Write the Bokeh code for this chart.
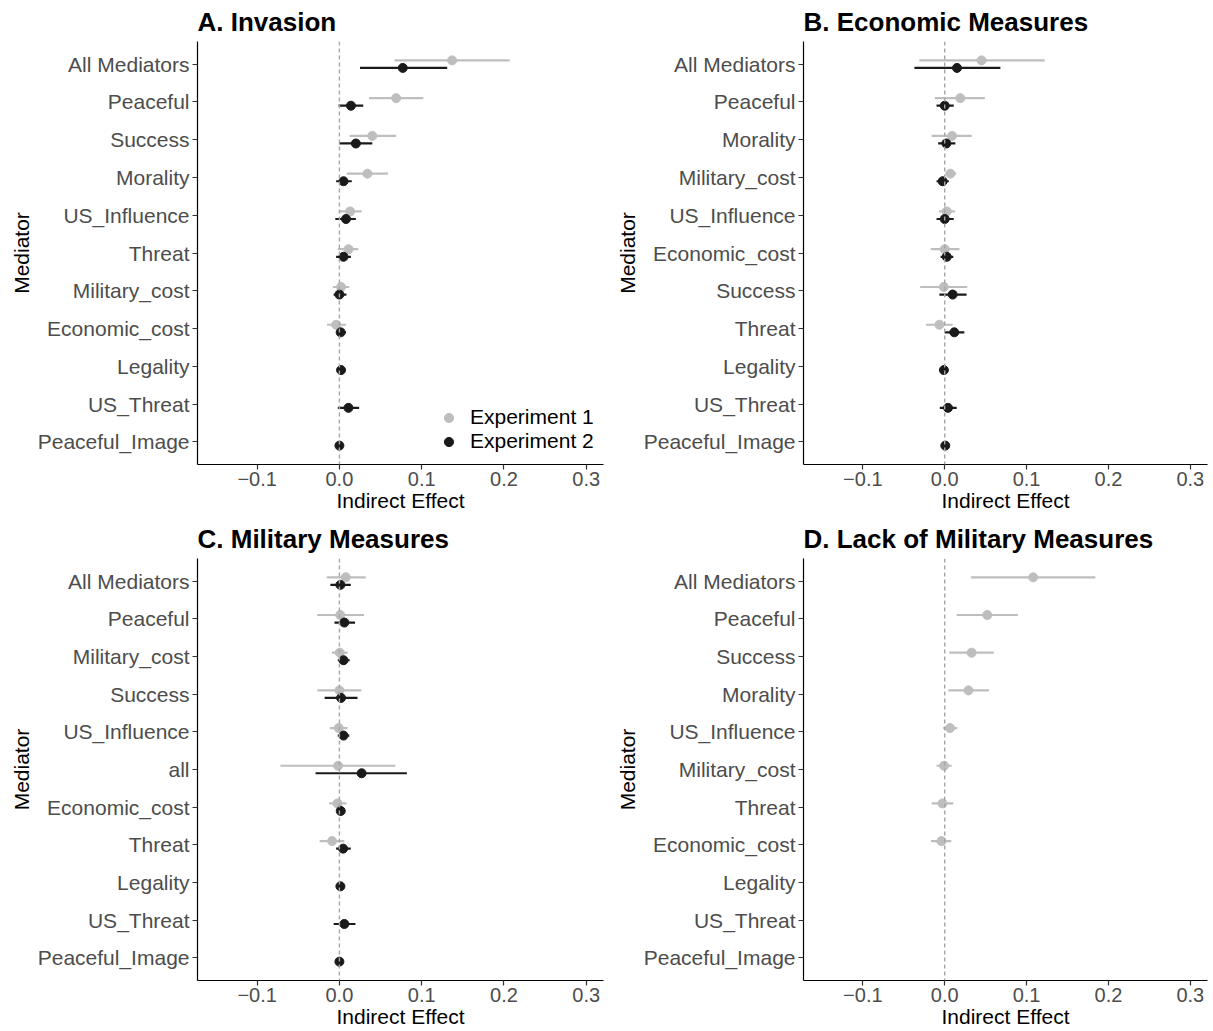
import math
from bokeh.plotting import figure
from bokeh.layouts import gridplot
from bokeh.models import (ColumnDataSource, Range1d, FixedTicker, Span, Legend, LegendItem)
from bokeh.embed import file_html
from bokeh.resources import INLINE

NAN = float("nan")
FONT = "Liberation Sans"

# ---- data: indirect effect estimates with 95% intervals ----
titles = ["A. Invasion", "B. Economic Measures", "C. Military Measures", "D. Lack of Military Measures"]

# A. Invasion
inv_mediators = ["All Mediators", "Peaceful", "Success", "Morality", "US_Influence", "Threat",
                 "Military_cost", "Economic_cost", "Legality", "US_Threat", "Peaceful_Image"]
inv_exp1_est = [0.137, 0.069, 0.040, 0.034, 0.013, 0.011, 0.002, -0.004, NAN, NAN, NAN]
inv_exp1_lo = [0.067, 0.036, 0.0125, 0.009, 0.000, -0.002, -0.008, -0.015, NAN, NAN, NAN]
inv_exp1_hi = [0.207, 0.102, 0.069, 0.059, 0.027, 0.023, 0.012, 0.008, NAN, NAN, NAN]
inv_exp2_est = [0.077, 0.014, 0.020, 0.005, 0.008, 0.005, 0.000, 0.0015, 0.002, 0.011, 0.000]
inv_exp2_lo = [0.025, -0.001, 0.000, -0.004, -0.005, -0.004, -0.007, -0.002, 0.000, -0.002, -0.001]
inv_exp2_hi = [0.131, 0.029, 0.040, 0.015, 0.020, 0.014, 0.0085, 0.008, 0.004, 0.024, 0.001]

# B. Economic Measures
eco_mediators = ["All Mediators", "Peaceful", "Morality", "Military_cost", "US_Influence", "Economic_cost",
                 "Success", "Threat", "Legality", "US_Threat", "Peaceful_Image"]
eco_exp1_est = [0.045, 0.019, 0.009, 0.007, 0.0025, 0.000, -0.001, -0.0065, NAN, NAN, NAN]
eco_exp1_lo = [-0.031, -0.012, -0.016, 0.001, -0.007, -0.017, -0.030, -0.023, NAN, NAN, NAN]
eco_exp1_hi = [0.122, 0.049, 0.033, 0.014, 0.0125, 0.018, 0.0275, 0.0097, NAN, NAN, NAN]
eco_exp2_est = [0.015, 0.000, 0.002, -0.0025, 0.000, 0.0025, 0.0097, 0.0117, -0.001, 0.004, 0.0007]
eco_exp2_lo = [-0.037, -0.010, -0.008, -0.010, -0.010, -0.005, -0.0065, 0.000, -0.002, -0.006, -0.001]
eco_exp2_hi = [0.068, 0.011, 0.013, 0.005, 0.011, 0.0105, 0.0267, 0.024, 0.000, 0.0146, 0.002]

# C. Military Measures
mil_mediators = ["All Mediators", "Peaceful", "Military_cost", "Success", "US_Influence", "all",
                 "Economic_cost", "Threat", "Legality", "US_Threat", "Peaceful_Image"]
mil_exp1_est = [0.0077, 0.001, 0.0004, 0.000, -0.0008, -0.0016, -0.0024, -0.0089, NAN, NAN, NAN]
mil_exp1_lo = [-0.0154, -0.027, -0.009, -0.0267, -0.0117, -0.0717, -0.0125, -0.024, NAN, NAN, NAN]
mil_exp1_hi = [0.032, 0.030, 0.010, 0.0267, 0.010, 0.068, 0.0085, 0.006, NAN, NAN, NAN]
mil_exp2_est = [0.0012, 0.006, 0.005, 0.002, 0.005, 0.027, 0.0016, 0.0045, 0.0012, 0.006, 0.000]
mil_exp2_lo = [-0.011, -0.006, -0.002, -0.018, -0.002, -0.029, 0.000, -0.004, 0.000, -0.007, -0.001]
mil_exp2_hi = [0.0138, 0.019, 0.0125, 0.022, 0.012, 0.082, 0.003, 0.0138, 0.0025, 0.0195, 0.001]

# D. Lack of Military Measures (Experiment 1 only)
lack_mediators = ["All Mediators", "Peaceful", "Success", "Morality", "US_Influence", "Military_cost",
                  "Threat", "Economic_cost", "Legality", "US_Threat", "Peaceful_Image"]
lack_exp1_est = [0.108, 0.052, 0.0328, 0.029, 0.0065, -0.0008, -0.0028, -0.004, NAN, NAN, NAN]
lack_exp1_lo = [0.032, 0.0146, 0.0056, 0.0044, -0.002, -0.010, -0.016, -0.0167, NAN, NAN, NAN]
lack_exp1_hi = [0.184, 0.0895, 0.060, 0.054, 0.0154, 0.0085, 0.0105, 0.008, NAN, NAN, NAN]
lack_exp2_est = [NAN] * 11
lack_exp2_lo = [NAN] * 11
lack_exp2_hi = [NAN] * 11

x_ticks = [-0.1, 0.0, 0.1, 0.2, 0.3]
x_tick_labels = ["\u22120.1", "0.0", "0.1", "0.2", "0.3"]
series_names = ["Experiment 1", "Experiment 2"]

GREY = "#BEBEBE"
DARK = "#1A1A1A"
TICK_COL = "#4D4D4D"


def make_source(mediators, est, lo, hi, offset):
    n = len(mediators)
    rows = [(n - i + offset, e, l, h) for i, (e, l, h) in enumerate(zip(est, lo, hi)) if not math.isnan(e)]
    return ColumnDataSource(dict(
        y=[r[0] for r in rows], est=[r[1] for r in rows],
        lo=[r[2] for r in rows], hi=[r[3] for r in rows]))


def panel(title, mediators, e1, l1, h1, e2, l2, h2, width, height, left, right, top, bottom, legend=False):
    n = len(mediators)
    p = figure(width=width, height=height, output_backend="svg", toolbar_location=None,
               x_range=Range1d(-0.1725, 0.321), y_range=Range1d(0.4, n + 0.6),
               min_border_left=left, min_border_right=right, min_border_top=top, min_border_bottom=bottom,
               background_fill_color="white", border_fill_color="white", outline_line_color=None)
    p.title.text = title
    p.title.text_font = FONT
    p.title.text_font_size = "26px"
    p.title.text_font_style = "bold"
    p.title.text_color = "black"
    p.title.align = "left"
    p.title.offset = 0
    p.title.standoff = 9

    p.xgrid.visible = False
    p.ygrid.visible = False

    p.add_layout(Span(location=0, dimension="height", line_color="#A6A6A6",
                      line_width=1.4, line_dash="4 3"))

    s1 = make_source(mediators, e1, l1, h1, 0.1)
    s2 = make_source(mediators, e2, l2, h2, -0.1)
    p.segment(x0="lo", x1="hi", y0="y", y1="y", source=s1, line_color=GREY, line_width=2.2)
    r1 = p.scatter(x="est", y="y", source=s1, size=9, fill_color=GREY, line_color=GREY)
    p.segment(x0="lo", x1="hi", y0="y", y1="y", source=s2, line_color=DARK, line_width=2.2)
    r2 = p.scatter(x="est", y="y", source=s2, size=9, fill_color=DARK, line_color=DARK)

    for ax in (p.xaxis[0], p.yaxis[0]):
        ax.axis_line_color = "black"
        ax.axis_line_width = 1.2
        ax.major_tick_line_color = "#333333"
        ax.major_tick_line_width = 1.2
        ax.major_tick_out = 5
        ax.major_tick_in = 0
        ax.minor_tick_line_color = None
        ax.major_label_text_font = FONT
        ax.major_label_text_color = TICK_COL
        ax.axis_label_text_font = FONT
        ax.axis_label_text_font_size = "21px"
        ax.axis_label_text_font_style = "normal"
        ax.axis_label_text_color = "black"
        ax.major_label_standoff = 2
        ax.axis_label_standoff = 0

    p.yaxis.major_label_standoff = 3
    p.yaxis.axis_label_standoff = 2

    p.xaxis.ticker = FixedTicker(ticks=x_ticks)
    p.xaxis.major_label_overrides = {t: lab for t, lab in zip(x_ticks, x_tick_labels)}
    p.xaxis.major_label_text_font_size = "20px"
    p.xaxis.axis_label = "Indirect Effect"

    y_pos = [n - i for i in range(n)]
    p.yaxis.ticker = FixedTicker(ticks=y_pos)
    p.yaxis.major_label_overrides = {y: m for y, m in zip(y_pos, mediators)}
    p.yaxis.major_label_text_font_size = "21px"
    p.yaxis.axis_label = "Mediator"

    if legend:
        lg = Legend(items=[LegendItem(label=series_names[0], renderers=[r1]),
                           LegendItem(label=series_names[1], renderers=[r2])],
                    location=(240, 11), glyph_width=23, glyph_height=23, label_height=21,
                    label_standoff=10, spacing=-5, padding=0, margin=0,
                    border_line_color=None, background_fill_alpha=0,
                    label_text_font=FONT, label_text_font_size="21px", label_text_color="black")
        p.add_layout(lg)
    return p


pa = panel(titles[0], inv_mediators, inv_exp1_est, inv_exp1_lo, inv_exp1_hi,
           inv_exp2_est, inv_exp2_lo, inv_exp2_hi, 606, 516, 197, 3, 41, 52, legend=True)
pb = panel(titles[1], eco_mediators, eco_exp1_est, eco_exp1_lo, eco_exp1_hi,
           eco_exp2_est, eco_exp2_lo, eco_exp2_hi, 607, 516, 197, 6, 41, 52)
pc = panel(titles[2], mil_mediators, mil_exp1_est, mil_exp1_lo, mil_exp1_hi,
           mil_exp2_est, mil_exp2_lo, mil_exp2_hi, 606, 515, 197, 3, 42, 51)
pd = panel(titles[3], lack_mediators, lack_exp1_est, lack_exp1_lo, lack_exp1_hi,
           lack_exp2_est, lack_exp2_lo, lack_exp2_hi, 607, 515, 197, 6, 42, 51)

grid = gridplot([[pa, pb], [pc, pd]], toolbar_location=None)

with open("out.html", "w") as f:
    f.write(file_html(grid, INLINE))
